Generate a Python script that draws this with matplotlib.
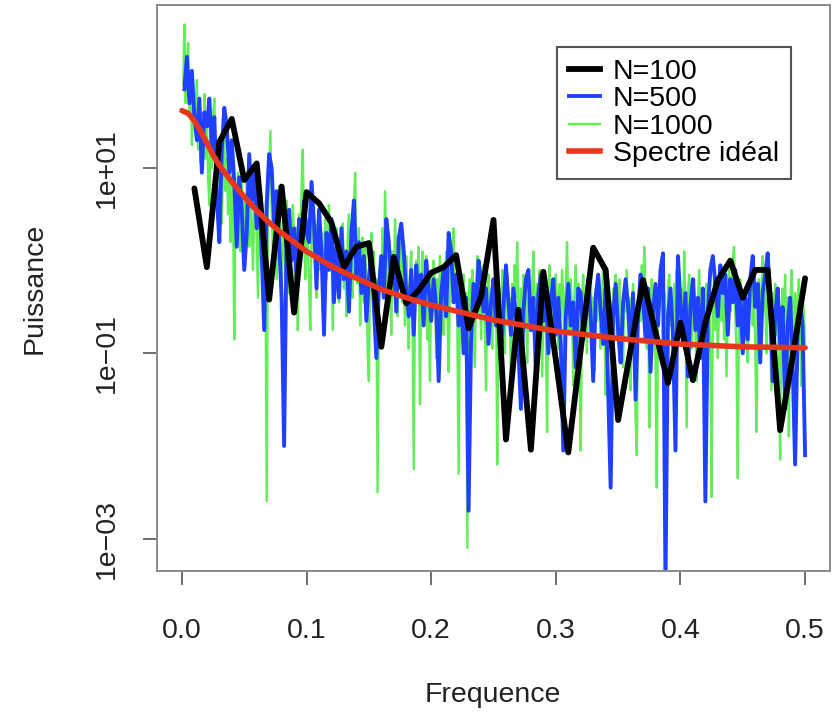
import numpy as np
import matplotlib
matplotlib.use("Agg")
import matplotlib.pyplot as plt
from matplotlib.lines import Line2D
from matplotlib.ticker import NullLocator

plt.rcParams['font.family'] = ['Liberation Sans', 'DejaVu Sans']

# Periodograms, values stored as log10(puissance)
# N=100 -> frequencies k/100, N=500 -> k/500, N=1000 -> k/1000
log_p100 = [
    0.78, -0.07, 1.28, 1.53, 0.87, 1.05, -0.42, 0.80, -0.56, 0.74,
    0.62, 0.41, -0.07, 0.15, 0.19, -0.93, 0.04, -0.46, -0.32, -0.13,
    -0.07, 0.06, -0.73, -0.39, 0.44, -1.93, -0.53, -2.04, -0.12, -1.07,
    -2.07, -0.96, 0.14, -0.10, -1.72, -0.96, -0.21, -0.77, -1.32, -0.67,
    -1.29, -0.67, -0.21, 0.00, -0.40, -0.10, -0.10, -1.83, -1.04, -0.19,
]

log_p500 = [
    1.85, 2.20, 1.70, 2.05, 1.55, 1.30, 1.75, 0.95, 1.60, 1.45, 1.75, 1.20, 1.55, 0.70, 0.20, 1.20, 1.65, 1.45, 0.95, 1.30, 0.85, 0.15, 0.90, 0.55, -0.10,
    0.30, 1.15, 0.65, 0.95, 0.35, 0.80, 0.10, -0.75, 0.60, 1.15, 1.00, 0.40, 0.75, 0.20, -0.40, -2.00, 0.30, 0.55, 0.00, 0.35, -0.20, 0.45, 0.10, 0.65, 0.30,
    0.20, 0.85, 0.40, -0.30, 0.55, 0.10, -0.80, 0.30, -0.10, 0.45, -0.45, 0.15, -0.40, 0.35, -0.20, 0.10, -0.55, 0.30, 0.65, -0.15, 0.20, -0.35, 0.05, -0.65, -0.20,
    0.10, -0.50, -1.05, -0.30, 0.05, -0.40, 0.45, 0.20, -0.25, 0.05, -0.55, 0.25, 0.40, 0.10, -0.35, -0.60, -0.10, -0.80, -0.05, -0.40, -0.15, -0.70, 0.00, -0.30, -0.65,
    -0.20, -0.50, -1.30, -0.35, -0.10, -0.60, 0.30, 0.10, -0.45, -0.15, -0.70, -0.30, -1.00, -0.40, -2.70, -0.85, -0.25, -0.60, 0.00, -0.20, -0.55, -0.30, -0.90, -0.45, -0.20,
    -0.70, -0.35, -1.10, -0.50, -0.05, -0.45, -0.80, -0.30, -0.60, -0.95, -1.60, -0.55, -0.20, -0.10, -0.75, -0.40, -1.20, -0.35, -0.15, -0.65, -0.30, -1.00, -0.45, -0.20, -0.80,
    -0.40, -0.90, -2.05, -0.60, -0.25, -0.70, -0.45, -1.15, -0.30, -0.35, -0.85, -0.50, -0.20, -0.60, -1.30, -0.40, -0.15, -0.55, -0.90, -0.30, -1.40, -2.45, -0.60, -0.25, -0.75,
    -1.10, -0.45, -0.20, -0.50, -0.95, -0.35, -1.50, -0.60, -0.15, -0.40, -0.85, -0.30, -1.20, -0.55, -0.25, -0.70, -0.10, 0.08, -3.50, -0.60, -0.30, -0.80, -2.05, 0.05, -0.45,
    -0.90, -0.35, -1.25, -0.50, -0.20, -0.75, -0.40, -1.05, -0.30, -2.60, -0.55, -0.10, 0.05, -0.25, -0.60, -0.05, -0.35, -0.15, -0.80, -0.20, -0.45, -0.10, -0.70, -0.35, -1.00,
    -0.40, -0.85, -0.20, 0.05, -0.50, -0.25, -1.10, -0.35, -0.15, 0.08, -0.45, -1.30, -0.60, -0.30, -0.90, -0.50, -1.60, -0.70, -0.40, -1.10, -2.20, -0.80, -0.45, -0.70, -2.10,
]

log_p1000 = [
    1.90, 2.55, 1.70, 2.10, 2.35, 1.60, 2.00, 1.25, 1.85, 1.50, 1.70, 1.95, 1.20, 1.60, 1.05, 1.45, 1.25, 1.80, 1.10, 1.50, 0.90, 0.60, 1.35, 1.00, 1.55,
    1.75, 1.05, 0.70, 1.30, 0.95, 1.20, 0.40, 1.00, 1.35, 0.75, 1.10, 0.50, 0.90, 0.20, 1.05, 0.60, -0.85, 0.80, 0.35, 0.95, 0.55, 0.10, 0.85, 0.40, 0.70,
    0.20, 0.90, 0.50, 0.15, 0.75, 0.35, -0.10, 0.60, 0.85, 0.25, -0.40, 0.45, 0.05, 0.70, 0.30, -0.30, 0.20, -2.60, 0.50, 0.95, 1.40, 0.55, 0.15, 0.75, 0.35,
    -0.20, 0.40, 0.80, 0.10, -0.50, 0.55, 0.20, -0.15, 0.65, 0.30, -0.35, 0.45, 0.00, 0.60, 0.25, -0.55, 0.35, -0.75, 0.50, 0.15, 0.80, 1.20, 0.30, -0.20, 0.45,
    0.15, -0.25, -0.75, 0.35, 0.70, 0.05, 0.40, -0.40, 0.20, 0.55, -0.10, 0.30, -0.55, 0.10, 0.45, -0.20, 0.25, 0.60, -0.05, 0.20, -0.75, 0.15, -0.30, 0.35, 0.05,
    -0.45, 0.20, -0.10, 0.40, -0.30, 0.05, -0.60, 0.25, 0.50, -0.15, 0.30, -0.40, 0.60, 0.95, 0.10, -0.25, 0.35, -0.70, 0.00, 0.25, -0.45, 0.15, -0.20, -0.95, -1.30,
    -0.10, 0.30, -0.35, 0.10, -0.55, -0.20, -2.50, -0.40, 0.05, -0.30, 0.35, -0.15, 0.75, 0.15, -0.50, 0.20, -0.25, -0.80, 0.10, -0.35, 0.45, -0.05, -0.60, 0.15, -0.30,
    0.20, -0.45, -0.10, -0.70, 0.05, -0.35, -0.95, -0.15, 0.10, -0.50, -2.25, -0.40, 0.00, -0.25, 0.15, -1.55, -0.30, 0.10, -0.60, -0.15, 0.05, -0.85, -0.35, -1.30, -0.20,
    -0.55, 0.00, -0.30, -1.05, -0.20, -0.60, 0.05, -0.40, -0.15, -0.80, -0.25, 0.10, -0.50, -1.20, -0.35, 0.15, -0.10, 0.35, -0.45, -0.20, -0.70, -2.30, -0.55, -0.25, -0.60,
    -0.15, -0.90, -0.35, -3.10, -0.50, -0.20, -0.75, -0.10, -0.45, -1.15, -0.30, 0.05, -0.55, -0.25, -0.85, -0.40, -0.05, -0.65, -1.40, -0.30, -0.15, -0.70, -0.45, -0.95, -0.25,
    -0.55, -0.20, -2.20, -0.60, -0.30, -0.85, -0.10, -0.45, -1.00, -0.35, -0.15, -0.70, -0.40, -1.30, -0.25, -0.55, -0.05, -0.40, 0.20, -0.50, -0.95, -0.30, -0.60, -0.15, -0.75,
    -0.35, -1.10, -0.50, -0.20, -0.65, -0.30, 0.10, -0.45, -0.85, -0.25, -0.60, -0.10, -0.40, -1.25, -0.55, -0.20, -0.75, -1.85, -0.35, -0.05, -0.50, -0.90, -0.30, -0.65, -0.15,
    -0.45, -0.95, -0.25, -0.60, -0.10, -0.40, -1.15, -0.30, 0.20, -0.50, -0.80, -0.20, -0.55, -1.35, -0.35, -0.05, -0.60, -0.25, -0.90, -2.05, -0.45, -0.15, -0.70, -0.35, -1.00,
    -0.25, -0.55, -0.10, -0.80, -0.40, -1.20, -0.30, -0.65, -0.15, -0.50, -0.95, -0.35, -0.05, -0.60, -1.45, -0.40, -0.20, -0.75, -0.45, -1.05, -0.30, -0.60, -0.15, -0.85, -0.40,
    -0.20, -0.70, -0.45, -1.15, -0.30, -0.55, -0.10, -0.85, -0.40, -1.40, -0.60, -0.25, -0.75, -1.70, -2.10, -0.50, -0.20, -0.65, -0.05, -0.35, 0.15, -0.45, -0.95, -0.30, -1.80,
    -0.55, -0.20, -0.70, -0.40, -1.10, -2.45, -0.60, -0.25, -0.50, -0.05, -0.80, -0.35, -0.60, -1.25, -0.30, -0.15, -0.70, -0.45, -1.00, -0.25, -0.55, -0.10, -0.85, -0.40, -0.65,
    -0.30, -0.75, 0.10, -0.50, -1.80, -0.35, -0.15, -0.60, -0.95, -0.40, -0.20, -0.70, -1.30, -0.45, -0.10, -0.55, -0.30, -0.85, -0.50, -1.15, -0.25, -0.60, -0.40, -1.00, -2.55,
    -0.45, -0.20, -0.75, -0.35, -1.05, -0.50, -0.15, -0.65, -0.30, -0.85, -0.45, -1.25, -0.40, -0.10, -0.55, -0.25, 0.00, 0.15, -0.60, -0.95, -2.35, -0.50, -0.20, -0.70, -0.40,
    -0.85, -0.30, -0.55, -1.10, -0.25, -0.45, -0.05, -0.70, -0.35, -0.90, -1.85, -0.50, -0.20, -0.65, -0.40, 0.05, -0.55, -0.30, -1.00, -0.45, -0.15, -0.75, -1.40, -0.35, -0.60,
    -0.25, -0.80, -0.45, -1.20, -2.15, -0.55, -0.30, -0.70, -0.15, -0.95, -0.40, -1.90, -0.60, -0.10, -0.50, -0.85, -0.35, -1.15, -0.45, -0.20, -0.70, -1.35, -0.40, -0.55, -0.90,
]

# ideal spectrum (red curve), read at a few frequencies
freq_ideal = [0.0, 0.005, 0.01, 0.015, 0.02, 0.025, 0.03, 0.035, 0.04, 0.05, 0.06,
              0.07, 0.08, 0.10, 0.12, 0.14, 0.16, 0.18, 0.20, 0.25, 0.30, 0.35,
              0.40, 0.45, 0.50]
log_ideal = [1.62, 1.59, 1.51, 1.40, 1.27, 1.14, 1.03, 0.94, 0.85, 0.69, 0.54,
             0.41, 0.30, 0.10, -0.06, -0.19, -0.31, -0.40, -0.48, -0.64, -0.76, -0.84,
             -0.90, -0.93, -0.94]

freq_100 = np.arange(1, 51) / 100
freq_500 = np.arange(1, 251) / 500
freq_1000 = np.arange(1, 501) / 1000

c_black = '#000000'
c_blue = '#2040ff'
c_green = '#62ee58'
c_red = '#e8361e'

fig = plt.figure(figsize=(8.37, 7.15), dpi=100)
ax = fig.add_axes([157 / 837, 1 - 571 / 715, 673 / 837, 566 / 715])

ax.plot(freq_1000, 10 ** np.array(log_p1000), color=c_green, lw=1.7)
ax.plot(freq_500, 10 ** np.array(log_p500), color=c_blue, lw=2.8)
ax.plot(freq_100, 10 ** np.array(log_p100), color=c_black, lw=4.2,
        solid_joinstyle='round', solid_capstyle='round')
ax.plot(freq_ideal, 10 ** np.array(log_ideal), color=c_red, lw=4,
        solid_joinstyle='round', solid_capstyle='round')

ax.set_yscale('log')
ax.set_xlim(-0.02, 0.52)
ax.set_ylim(10 ** -3.35, 10 ** 2.76)

ax.set_xticks([0.0, 0.1, 0.2, 0.3, 0.4, 0.5])
ax.set_xticklabels(['0.0', '0.1', '0.2', '0.3', '0.4', '0.5'])
ax.set_yticks([1e-3, 1e-1, 1e1])
ax.set_yticklabels(['1e\u221203', '1e\u221201', '1e+01'], rotation=90, va='center')
ax.yaxis.set_minor_locator(NullLocator())

ax.tick_params(axis='both', direction='out', length=10, width=1.2,
               color='#555555', labelsize=20.5, labelcolor='#222222')
ax.tick_params(axis='x', pad=24)
ax.tick_params(axis='y', pad=17)
for sp in ax.spines.values():
    sp.set_color('#8a8a8a')
    sp.set_linewidth(1.4)

fig.text(493 / 837, 1 - 695 / 715, 'Frequence', ha='center', va='center',
         fontsize=20.5, color='#222222')
fig.text(35 / 837, 1 - 288 / 715, 'Puissance', ha='center', va='center',
         rotation=90, fontsize=20.5, color='#222222')

handles = [Line2D([], [], color=c_black, lw=4.2),
           Line2D([], [], color=c_blue, lw=2.8),
           Line2D([], [], color=c_green, lw=1.7),
           Line2D([], [], color=c_red, lw=4)]
leg = ax.legend(handles, ['N=100', 'N=500', 'N=1000', 'Spectre idéal'],
                loc='upper right', bbox_to_anchor=(0.942, 0.926), borderaxespad=0,
                fontsize=20.5, frameon=True, fancybox=False, framealpha=1,
                handlelength=1.1, handletextpad=0.45, labelspacing=0.05,
                borderpad=0.42)
leg.get_frame().set_edgecolor('#555555')
leg.get_frame().set_linewidth(1.5)

fig.savefig('out.png', dpi=100)
